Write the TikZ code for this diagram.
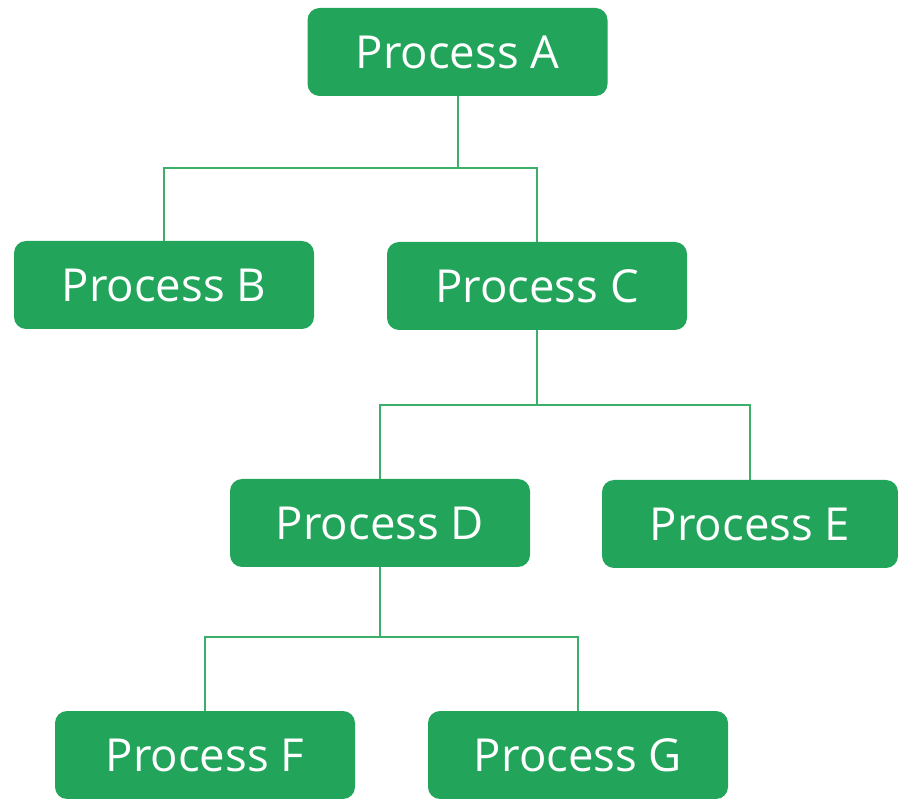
\documentclass[tikz,border=0pt]{standalone}
\usepackage{fontspec}
\setmainfont{Open Sans}
\definecolor{boxgreen}{HTML}{22A55A}
\definecolor{linegreen}{HTML}{3DAF6A}
\begin{document}
\begin{tikzpicture}[x=1pt,y=-1pt,
  procbox/.style={fill=boxgreen, rounded corners=12pt, minimum width=300pt, minimum height=88pt, inner sep=0pt, text=white, font=\fontsize{45.5}{50}\selectfont},
  conn/.style={draw=linegreen, line width=2pt}]
\useasboundingbox (0,0) rectangle (898,799);
\node[procbox] (A) at (457.5,52) {Process A};
\node[procbox] (B) at (164,285) {Process B};
\node[procbox] (C) at (537,286) {Process C};
\node[procbox] (D) at (380,523) {Process D};
\node[procbox, minimum width=296pt] (E) at (750,524) {Process E};
\node[procbox] (F) at (205,755) {Process F};
\node[procbox] (G) at (578,755) {Process G};
\coordinate (jA) at (457.5,168);
\coordinate (jC) at (537,405);
\coordinate (jD) at (380,637);
\draw[conn] (A.south) -- (jA);
\draw[conn] (jA) -| (B.north);
\draw[conn] (jA) -| (C.north);
\draw[conn] (C.south) -- (jC);
\draw[conn] (jC) -| (D.north);
\draw[conn] (jC) -| (E.north);
\draw[conn] (D.south) -- (jD);
\draw[conn] (jD) -| (F.north);
\draw[conn] (jD) -| (G.north);
\end{tikzpicture}
\end{document}
